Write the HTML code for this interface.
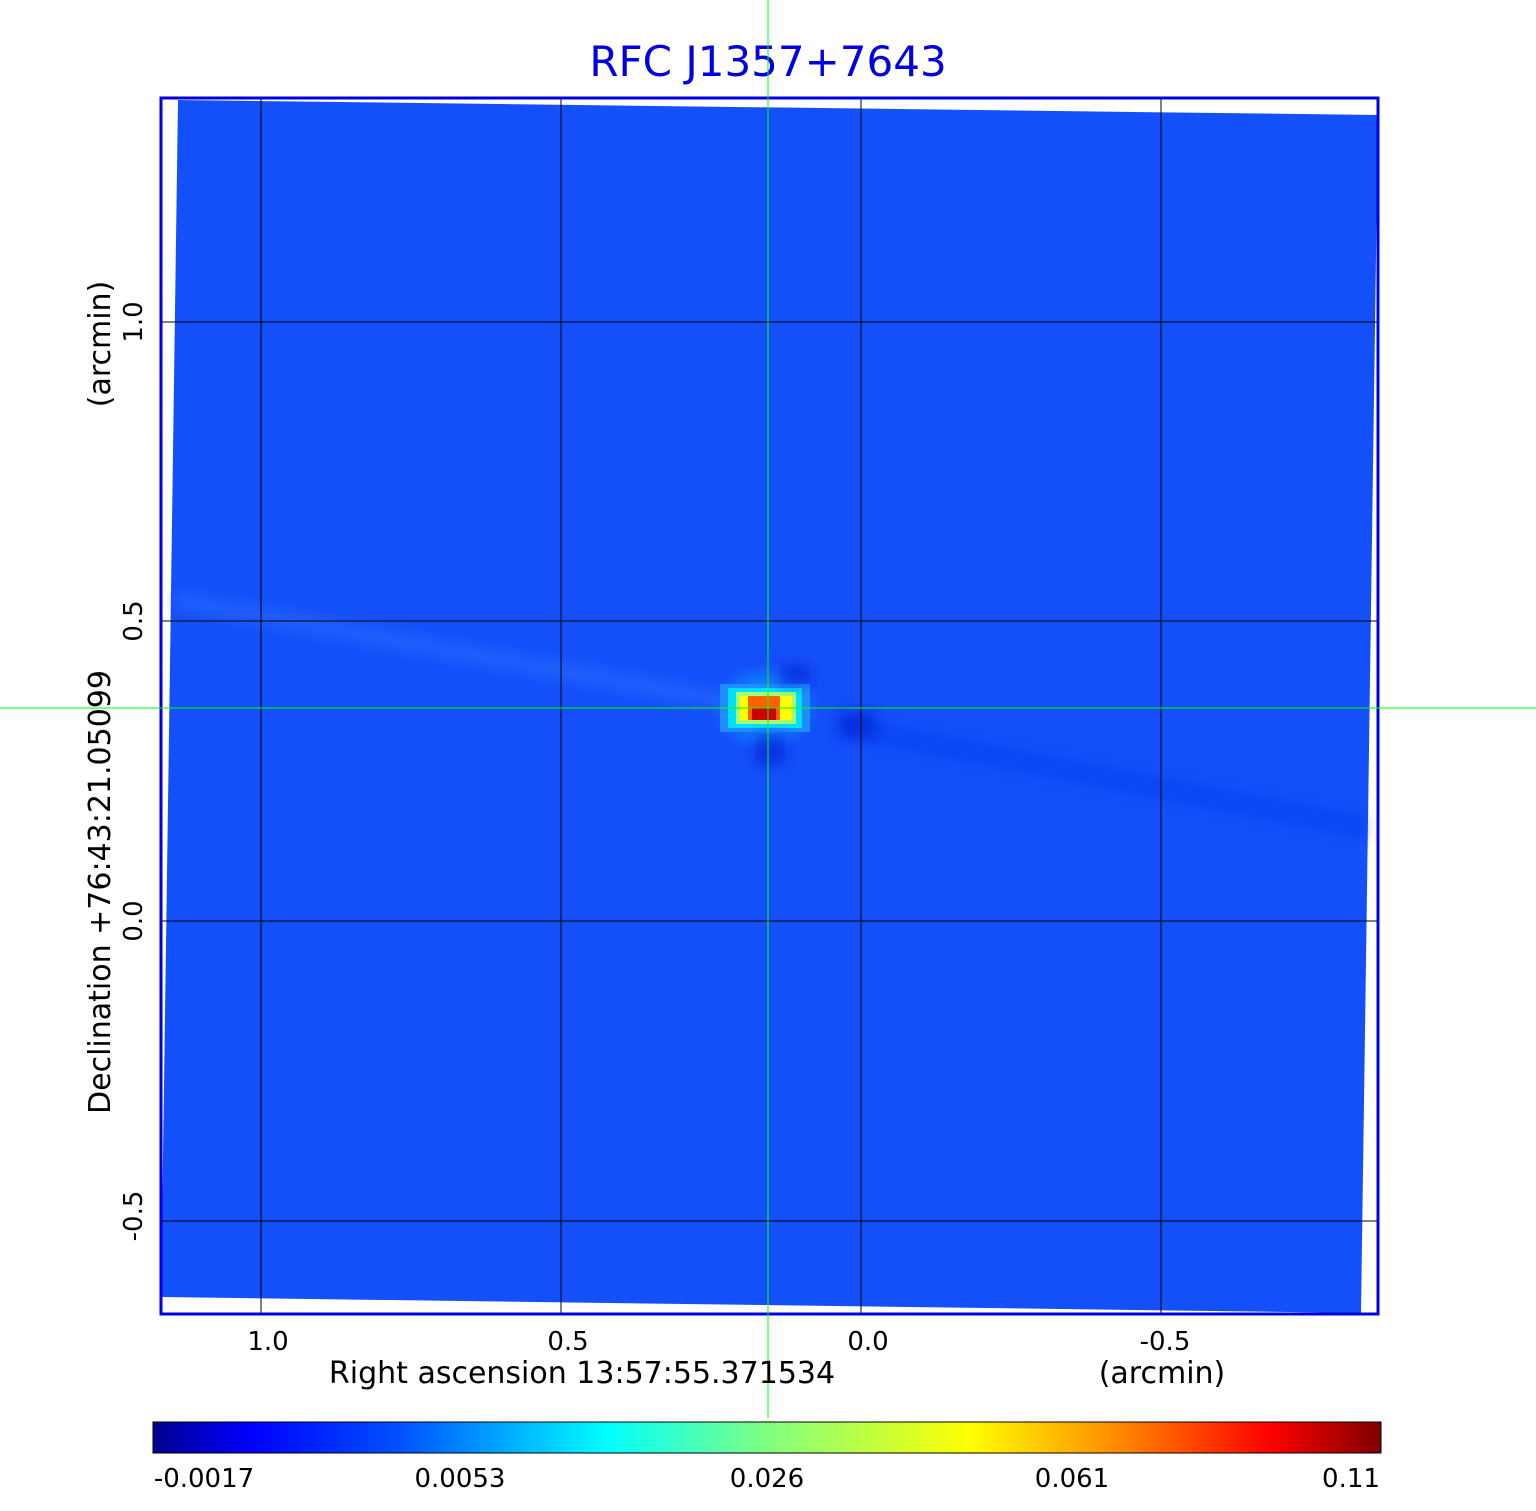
<!DOCTYPE html>
<html><head><style>
body{margin:0;background:#fff;width:1536px;height:1511px;overflow:hidden;font-family:"DejaVu Sans","Liberation Sans",sans-serif;}
</style></head><body>
<svg width="1536" height="1511" xmlns="http://www.w3.org/2000/svg" style="position:absolute;left:0;top:0" xml:space="preserve">
<defs>
<linearGradient id="jet" x1="0" x2="1" y1="0" y2="0">
<stop offset="0" stop-color="#00008f"/>
<stop offset="0.08" stop-color="#0000ff"/>
<stop offset="0.2" stop-color="#0050ff"/>
<stop offset="0.37" stop-color="#00ffff"/>
<stop offset="0.5" stop-color="#80ff80"/>
<stop offset="0.665" stop-color="#ffff00"/>
<stop offset="0.78" stop-color="#ff9000"/>
<stop offset="0.91" stop-color="#ff0000"/>
<stop offset="1" stop-color="#800000"/>
</linearGradient>
<radialGradient id="glow" cx="0.5" cy="0.5" r="0.5">
<stop offset="0" stop-color="#00e0ff" stop-opacity="0.7"/>
<stop offset="1" stop-color="#00e0ff" stop-opacity="0"/>
</radialGradient>
<filter id="bl"><feGaussianBlur stdDeviation="6"/></filter>
</defs>
<text x="768" y="76" text-anchor="middle" font-size="42" fill="#0000e0" font-family="DejaVu Sans,sans-serif">RFC J1357+7643</text>
<polygon points="178,100 1378,115 1361,1313 161,1297" fill="#1450fa"/>
<g filter="url(#bl)">
<polygon points="175,590 720,690 720,710 175,610" fill="#2a6cff" opacity="0.5"/>
<polygon points="840,715 1365,815 1365,840 840,738" fill="#0a3ae8" opacity="0.45"/>
</g>
<!-- source -->
<ellipse cx="765" cy="708" rx="55" ry="45" fill="url(#glow)"/>
<rect x="720" y="684" width="90" height="48" fill="#1f8dff"/>
<rect x="728" y="688" width="74" height="40" fill="#00e0ff"/>
<rect x="736" y="692" width="60" height="32" fill="#9fff70"/>
<rect x="740" y="696" width="52" height="24" fill="#ffff00"/>
<rect x="748" y="696" width="32" height="24" fill="#ff6000"/>
<rect x="752" y="708" width="24" height="12" fill="#d00000"/>
<g filter="url(#bl)">
<rect x="780" y="665" width="30" height="20" fill="#0020d0" opacity="0.6"/>
<rect x="755" y="735" width="30" height="30" fill="#0020d0" opacity="0.6"/>
<rect x="840" y="712" width="35" height="25" fill="#0020d0" opacity="0.6"/>
</g>
<!-- grid -->
<g stroke="#000" stroke-width="1">
<line x1="261" y1="98" x2="261" y2="1313"/>
<line x1="561" y1="98" x2="561" y2="1313"/>
<line x1="861" y1="98" x2="861" y2="1313"/>
<line x1="1161" y1="98" x2="1161" y2="1313"/>
<line x1="161" y1="322" x2="1378" y2="322"/>
<line x1="161" y1="621" x2="1378" y2="621"/>
<line x1="161" y1="921" x2="1378" y2="921"/>
<line x1="161" y1="1221" x2="1378" y2="1221"/>
</g>
<rect x="161" y="98" width="1217" height="1216" fill="none" stroke="#0000e0" stroke-width="3"/>
<g stroke="#00ff00" stroke-width="1">
<line x1="768" y1="0" x2="768" y2="1418"/>
<line x1="0" y1="708" x2="1536" y2="708"/>
</g>
<g font-size="26" fill="#000" text-anchor="middle">
<text x="268" y="1350">1.0</text>
<text x="568" y="1350">0.5</text>
<text x="868" y="1350">0.0</text>
<text x="1165" y="1350">-0.5</text>
<text x="582" y="1383" font-size="30">Right ascension  13:57:55.371534</text>
<text x="1162" y="1383" font-size="30">(arcmin)</text>
<text transform="translate(142,322) rotate(-90)">1.0</text>
<text transform="translate(142,621) rotate(-90)">0.5</text>
<text transform="translate(142,921) rotate(-90)">0.0</text>
<text transform="translate(142,1216) rotate(-90)">-0.5</text>
<text transform="translate(110,892) rotate(-90)" font-size="30">Declination  +76:43:21.05099</text>
<text transform="translate(110,344) rotate(-90)" font-size="30">(arcmin)</text>
</g>
<rect x="153" y="1422" width="1228" height="31" fill="url(#jet)" stroke="#000" stroke-width="1"/>
<g font-size="26" fill="#000" text-anchor="middle">
<text x="204" y="1487">-0.0017</text>
<text x="460" y="1487">0.0053</text>
<text x="767" y="1487">0.026</text>
<text x="1072" y="1487">0.061</text>
<text x="1351" y="1487">0.11</text>
</g>
</svg>
</body></html>
